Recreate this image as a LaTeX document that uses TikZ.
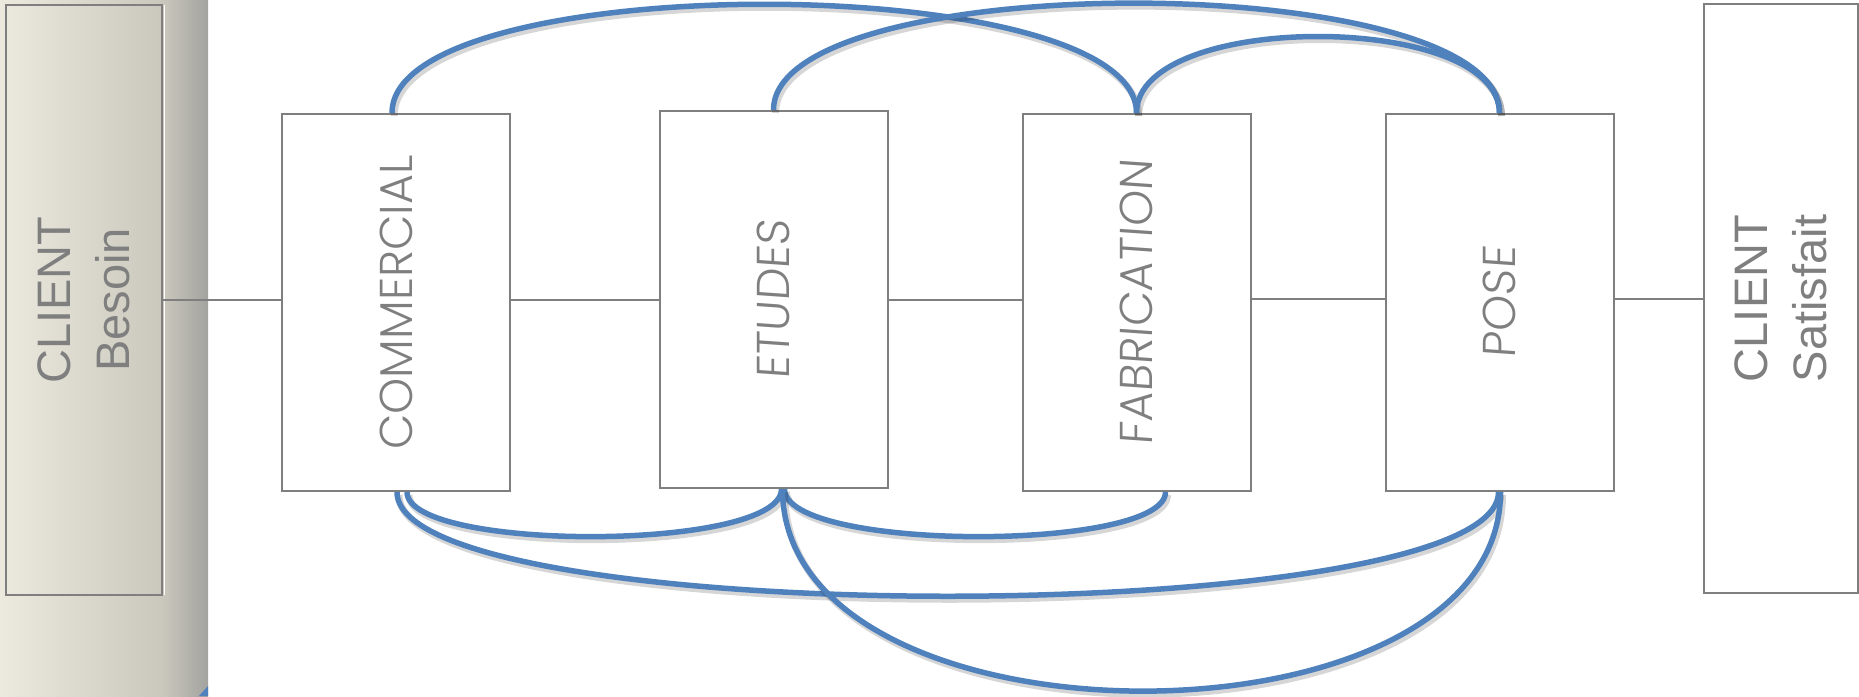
\documentclass[tikz,border=0pt]{standalone}
\usepackage{fontspec}
\setmainfont{Liberation Sans}
\newfontfamily\thinfont{Poppins Light}
\newfontfamily\thinslant{Poppins Light}[FakeSlant=0.07]
\usetikzlibrary{calc}
\definecolor{linegray}{HTML}{7F7F7F}
\definecolor{arcblue}{HTML}{4F81BD}
\definecolor{panelA}{HTML}{ECEADF}
\definecolor{panelB}{HTML}{CAC8BC}
\definecolor{panelC}{HTML}{A2A2A0}
\tikzset{
  stagebox/.style={draw=linegray, line width=2pt, minimum width=228pt, minimum height=377pt, inner sep=0pt},
  clientbox/.style={draw=linegray, line width=2pt, inner sep=0pt},
  stagetxt/.style={rotate=90, text=linegray, inner sep=0pt, font=\thinfont\fontsize{46}{55}\selectfont},
  stageslant/.style={rotate=90, text=linegray, inner sep=0pt, font=\thinslant\fontsize{46}{55}\selectfont},
  clienttxt/.style={rotate=90, text=linegray, align=center, inner sep=0pt, font=\fontsize{47}{59}\selectfont},
  conn/.style={draw=linegray, line width=2pt},
  flow/.style={draw=arcblue, line width=5.5pt,
    preaction={draw=black, draw opacity=0.16, line width=7pt, transform canvas={shift={(2pt,-3pt)}}}}
}
\begin{document}
\begin{tikzpicture}[x=1pt,y=-1pt]
\useasboundingbox (0,0) rectangle (1859,696);
% left panel
\shade[left color=panelA, right color=panelB] (0,0) rectangle (163,696);
\shade[left color=panelB, right color=panelC] (163,0) rectangle (208,696);
\fill[arcblue] (199,696) -- (208,686) -- (208,696) -- cycle;
\draw[white, line width=1pt] (164,5) -- (164,595);

% boxes
\node[clientbox, minimum width=156pt, minimum height=590pt] (besoin) at (84,300) {};
\node[clientbox, minimum width=154pt, minimum height=589pt] (satis) at (1781,298.5) {};
\node[stagebox] (com) at (396,302.5) {};
\node[stagebox] (etu) at (773.5,299.5) {};
\node[stagebox] (fab) at (1136.5,302.5) {};
\node[stagebox] (pose) at (1499.5,302.5) {};

% texts
\node[clienttxt] (besointxt) at (besoin) {CLIENT\\Besoin};
\node[clienttxt] (satistxt) at (satis) {CLIENT\\Satisfait};
\node[stagetxt] (comtxt) at (com) {COMMERCIAL};
\node[stageslant] (etutxt) at (etu) {ETUDES};
\node[stageslant] (fabtxt) at (fab) {FABRICATION};
\node[stageslant] (posetxt) at (pose) {POSE};

% horizontal connectors
\draw[conn] (besoin.east) -- (besoin.east -| com.west);
\draw[conn] (com.east |- besoin.east) -- (etu.west |- besoin.east);
\draw[conn] (etu.east |- besoin.east) -- (fab.west |- besoin.east);
\draw[conn] (fab.east |- satis.west) -- (pose.west |- satis.west);
\draw[conn] (pose.east |- satis.west) -- (satis.west);

% top arcs
\draw[flow] ($(com.north)+(-4,0)$) .. controls ($(com.north)+(-4,-145)$) and ($(fab.north)+(0,-145)$) .. (fab.north);
\draw[flow] (etu.north) .. controls ($(etu.north)+(0,-143)$) and ($(pose.north)+(0,-146)$) .. (pose.north);
\draw[flow] (fab.north) .. controls ($(fab.north)+(0,-102)$) and ($(pose.north)+(0,-102)$) .. (pose.north);

% bottom arcs
\draw[flow] ($(com.south)+(11,0)$) .. controls ($(com.south)+(11,60)$) and ($(etu.south)+(8,63)$) .. ($(etu.south)+(8,0)$);
\draw[flow] ($(etu.south)+(11,0)$) .. controls ($(etu.south)+(11,63)$) and ($(fab.south)+(29,60)$) .. ($(fab.south)+(29,0)$);
\draw[flow] ($(com.south)+(1,0)$) .. controls ($(com.south)+(1,139)$) and ($(pose.south)+(-1,139)$) .. ($(pose.south)+(-1,0)$);
\draw[flow] ($(etu.south)+(9,0)$) .. controls ($(etu.south)+(9,269)$) and ($(pose.south)+(1,266)$) .. ($(pose.south)+(1,0)$);
\end{tikzpicture}
\end{document}
